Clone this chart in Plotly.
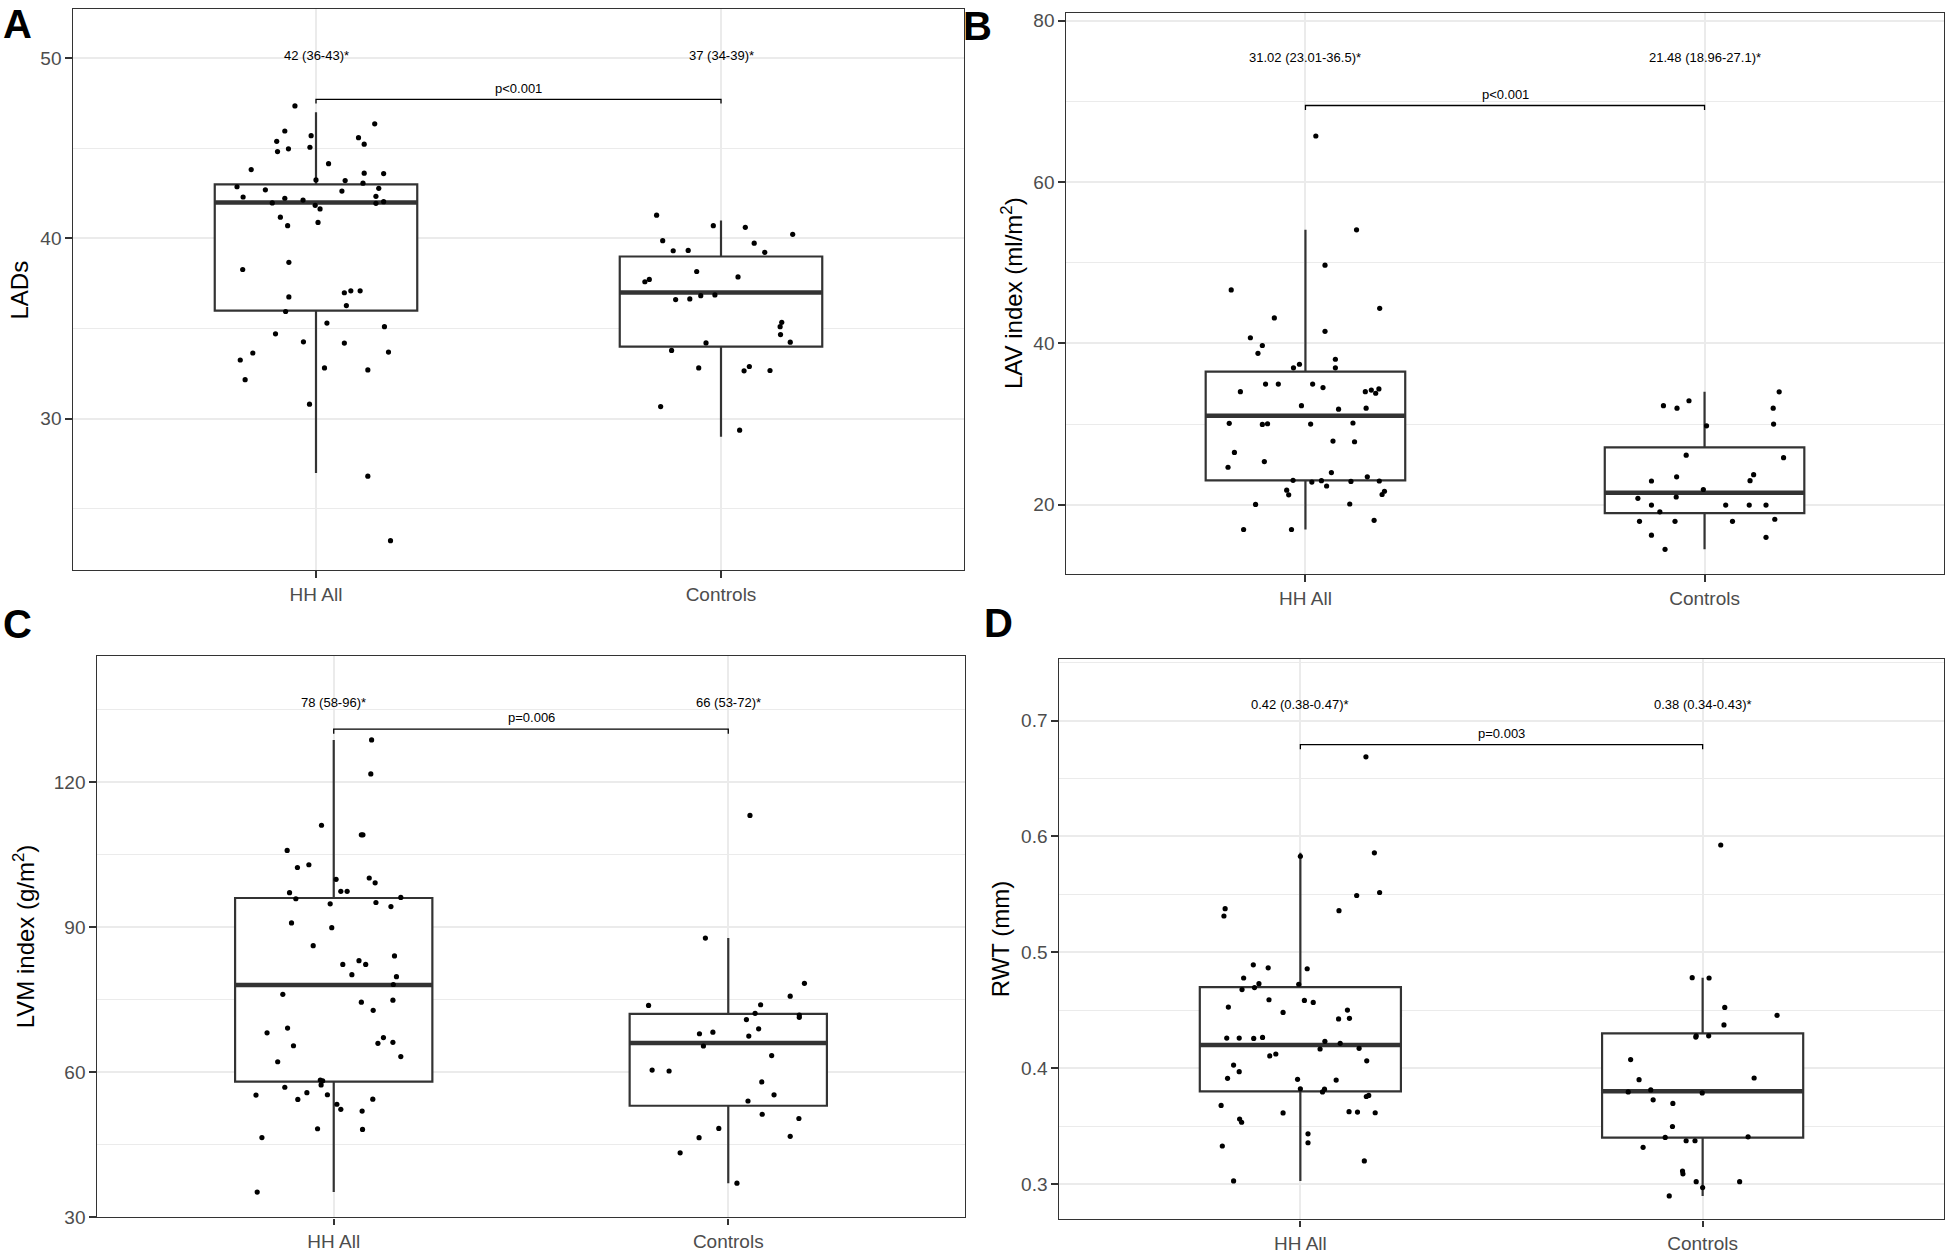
import plotly.graph_objects as go

categories = ["HH All", "Controls"]

# ---------------- Panel A : LADs ----------------
a_hh_jit = [-0.052, -0.077, -0.012, -0.097, -0.068, -0.095, -0.015, 0.145, 0.105, 0.119, 0.031, -0.160, 0.119, 0.167,
            0.000, 0.072, 0.116, -0.195, -0.125, 0.064, 0.155, -0.180, -0.077, -0.032, -0.108, 0.148, 0.167, 0.148,
            -0.002, 0.010, -0.088, -0.070, 0.005, -0.067, -0.181, 0.070, 0.086, 0.109, -0.067, 0.075, -0.075, 0.027,
            0.169, -0.100, -0.031, 0.070, -0.156, 0.179, -0.187, -0.175, 0.021, 0.128, -0.016, 0.128, 0.184]
a_hh_val = [47.35, 45.96, 45.70, 45.39, 44.97, 44.82, 45.06, 46.36, 45.59, 45.23, 44.15, 43.82, 43.62, 43.60,
            43.25, 43.21, 43.07, 42.87, 42.70, 42.63, 42.78, 42.30, 42.23, 42.13, 41.97, 42.34, 42.04, 41.95,
            41.84, 41.64, 41.18, 40.71, 40.89, 38.68, 38.28, 36.99, 37.10, 37.10, 36.76, 36.28, 35.95, 35.31,
            35.11, 34.71, 34.27, 34.20, 33.65, 33.70, 33.26, 32.17, 32.82, 32.71, 30.81, 26.82, 23.24]
a_ct_jit = [-0.159, -0.019, 0.060, 0.177, -0.144, 0.082, -0.118, -0.081, 0.108, -0.060, 0.042, -0.188, -0.177, -0.112,
            -0.077, -0.050, -0.015, 0.150, 0.146, 0.147, 0.171, -0.037, -0.122, -0.055, 0.057, 0.070, 0.121, -0.149,
            0.046]
a_ct_val = [41.29, 40.71, 40.62, 40.23, 39.88, 39.74, 39.32, 39.34, 39.23, 38.17, 37.87, 37.60, 37.73, 36.61,
            36.65, 36.83, 36.87, 35.35, 35.11, 34.67, 34.25, 34.21, 33.79, 32.82, 32.66, 32.90, 32.68, 30.68,
            29.37]
a_q1 = [36, 34]
a_med = [42, 37]
a_q3 = [43, 39]
a_lo = [27, 29]
a_hi = [47, 41]
a_labels = ["42 (36-43)*", "37 (34-39)*"]
a_p = "p<0.001"

# ---------------- Panel B : LAV index ----------------
b_hh_jit = [0.026, 0.128, 0.049, -0.186, 0.186, -0.078, 0.049, -0.138, -0.108, -0.119, 0.075, -0.015, -0.030, 0.075,
            -0.100, -0.068, 0.018, 0.044, -0.163, 0.150, 0.165, 0.176, 0.184, -0.010, 0.083, 0.152, -0.191, -0.108,
            -0.095, 0.013, 0.119, 0.069, 0.123, -0.178, -0.103, -0.194, 0.065, 0.155, -0.031, 0.016, 0.040, 0.053,
            0.114, 0.185, -0.047, -0.042, 0.192, 0.198, -0.125, 0.111, 0.172, -0.155, -0.035]
b_hh_val = [65.70, 54.08, 49.69, 46.62, 44.34, 43.16, 41.49, 40.70, 39.74, 38.77, 38.03, 37.41, 36.97, 36.97,
            34.96, 34.96, 34.96, 34.52, 34.01, 34.01, 34.21, 33.82, 34.35, 32.28, 31.84, 31.97, 30.09, 29.96,
            30.04, 30.00, 30.13, 27.89, 27.81, 26.49, 25.35, 24.65, 23.99, 23.46, 23.03, 22.81, 22.98, 22.32,
            22.89, 22.94, 21.80, 21.23, 21.27, 21.67, 20.04, 20.09, 18.07, 16.93, 16.93]
b_ct_jit = [0.187, -0.039, -0.103, -0.069, 0.172, 0.005, 0.173, -0.046, 0.198, 0.123, -0.070, 0.114, -0.133, -0.003,
            -0.167, -0.071, -0.133, 0.053, 0.112, 0.154, -0.112, -0.163, -0.074, 0.070, 0.176, -0.133, 0.154, -0.099]
b_ct_val = [33.99, 32.89, 32.28, 31.97, 31.97, 29.78, 30.00, 26.14, 25.83, 23.73, 23.46, 22.98, 22.94, 21.89,
            20.79, 20.96, 19.96, 19.96, 19.96, 19.96, 19.12, 17.94, 17.94, 17.94, 18.20, 16.23, 15.96, 14.47]
b_q1 = [23.01, 18.96]
b_med = [31.02, 21.48]
b_q3 = [36.5, 27.1]
b_lo = [16.93, 14.47]
b_hi = [54.08, 33.99]
b_labels = ["31.02 (23.01-36.5)*", "21.48 (18.96-27.1)*"]
b_p = "p<0.001"

# ---------------- Panel C : LVM index ----------------
c_hh_jit = [0.096, 0.094, -0.031, 0.070, 0.074, -0.118, -0.092, -0.063, 0.006, 0.090, 0.105, 0.018, 0.034, -0.112,
            -0.096, 0.170, -0.009, 0.107, 0.145, -0.107, -0.005, -0.052, 0.154, 0.023, 0.064, 0.081, 0.046, 0.159,
            0.151, -0.129, 0.070, 0.150, 0.100, -0.117, -0.169, -0.102, 0.126, 0.112, 0.150, 0.170, -0.142, -0.034,
            -0.032, -0.028, -0.124, -0.197, -0.068, -0.016, -0.091, 0.099, 0.008, 0.018, 0.072, -0.041, 0.073,
            -0.182, -0.194]
c_hh_val = [128.73, 121.69, 111.06, 109.08, 109.08, 105.85, 102.32, 102.89, 99.86, 100.14, 99.15, 97.39, 97.39, 97.11,
            95.85, 96.13, 94.79, 95.07, 94.23, 90.85, 89.86, 86.13, 84.01, 82.25, 83.03, 82.25, 80.14, 79.72,
            78.10, 76.06, 74.44, 74.86, 72.75, 69.08, 68.10, 65.42, 67.11, 65.92, 66.13, 63.17, 62.11, 58.31,
            57.32, 58.17, 56.83, 55.21, 55.70, 55.28, 54.30, 54.37, 53.31, 52.25, 51.90, 48.24, 48.10,
            46.41, 35.14]
c_ct_jit = [0.055, -0.058, 0.193, 0.157, -0.202, 0.082, 0.068, 0.180, 0.180, 0.046, 0.077, -0.039, -0.073, 0.052,
            -0.063, 0.110, -0.193, -0.150, 0.085, 0.116, 0.050, 0.086, 0.179, -0.024, -0.074, 0.157, -0.122, 0.022]
c_ct_val = [113.09, 87.70, 78.34, 75.68, 73.77, 73.91, 72.13, 71.79, 71.31, 70.84, 68.92, 68.24, 67.90, 67.42,
            65.37, 63.39, 60.39, 60.19, 57.93, 55.27, 53.98, 51.24, 50.36, 48.31, 46.40, 46.67, 43.26, 36.98]
c_q1 = [58, 53]
c_med = [78, 66]
c_q3 = [96, 72]
c_lo = [35.14, 36.98]
c_hi = [128.73, 87.70]
c_labels = ["78 (58-96)*", "66 (53-72)*"]
c_p = "p=0.006"

# ---------------- Panel D : RWT ----------------
d_hh_jit = [0.163, 0.184, 0.000, 0.140, 0.197, -0.187, -0.190, 0.096, -0.117, -0.080, 0.017, -0.141, -0.103, -0.114,
            -0.145, -0.004, -0.078, 0.010, 0.032, -0.179, -0.043, 0.117, 0.095, 0.122, -0.183, -0.152, -0.116,
            -0.094, 0.061, 0.099, 0.049, 0.146, -0.076, -0.061, 0.165, -0.166, -0.152, -0.181, -0.007, 0.089,
            0.000, 0.060, 0.055, 0.164, 0.170, -0.197, -0.043, 0.121, 0.142, 0.186, -0.151, -0.146, 0.019, 0.019,
            -0.194, 0.159, -0.166]
d_hh_val = [0.6687, 0.5858, 0.5829, 0.5490, 0.5516, 0.5376, 0.5313, 0.5359, 0.4892, 0.4866, 0.4858, 0.4778, 0.4729,
            0.4695, 0.4678, 0.4724, 0.4590, 0.4584, 0.4567, 0.4527, 0.4481, 0.4501, 0.4425, 0.4430, 0.4259, 0.4259,
            0.4256, 0.4265, 0.4231, 0.4214, 0.4165, 0.4171, 0.4105, 0.4122, 0.4063, 0.4026, 0.3969, 0.3912, 0.3903,
            0.3897, 0.3821, 0.3818, 0.3795, 0.3755, 0.3764, 0.3678, 0.3613, 0.3624, 0.3621, 0.3615, 0.3561, 0.3533,
            0.3433, 0.3356, 0.3328, 0.3199, 0.3026]
d_ct_jit = [0.045, -0.026, 0.016, 0.055, 0.185, 0.053, -0.017, -0.016, 0.015, -0.179, -0.158, 0.128, -0.185, -0.129,
            -0.001, -0.123, -0.074, -0.075, -0.093, -0.041, -0.019, 0.113, -0.148, -0.050, -0.049, -0.016, 0.092,
            0.000, -0.083]
d_ct_val = [0.5926, 0.4781, 0.4778, 0.4524, 0.4456, 0.4373, 0.4268, 0.4279, 0.4279, 0.4074, 0.3900, 0.3915, 0.3795,
            0.3812, 0.3786, 0.3726, 0.3695, 0.3496, 0.3402, 0.3373, 0.3373, 0.3407, 0.3316, 0.3111, 0.3088, 0.3020,
            0.3020, 0.2969, 0.2897]
d_q1 = [0.38, 0.34]
d_med = [0.42, 0.38]
d_q3 = [0.47, 0.43]
d_lo = [0.3026, 0.2897]
d_hi = [0.5858, 0.4781]
d_labels = ["0.42 (0.38-0.47)*", "0.38 (0.34-0.43)*"]
d_p = "p=0.003"

# ---------------- layout of the four panels (pixel boxes on 1950x1260) ----------------
W, H = 1950, 1260
FONT = "Liberation Sans, Arial, sans-serif"
BOX_W = 0.5
DARK = "#333333"
GRID = "#EBEBEB"

panels = [
    dict(name="A", title="LADs", px=(73, 964), py=(6, 573), yr=(21.61, 52.73), dtick=10, fmt="",
         hh=(a_hh_jit, a_hh_val), ct=(a_ct_jit, a_ct_val), q1=a_q1, med=a_med, q3=a_q3, lo=a_lo, hi=a_hi,
         labels=a_labels, p=a_p, lab_y=50.13, p_y=48.3, br_y=47.71, br_end=47.48,
         tag_xy=(17, 21), title_xy=(19.5, 290)),
    dict(name="B", title="LAV index (ml/m<sup>2</sup>)", px=(1066, 1944), py=(10, 577), yr=(11.41, 80.96), dtick=20, fmt="",
         hh=(b_hh_jit, b_hh_val), ct=(b_ct_jit, b_ct_val), q1=b_q1, med=b_med, q3=b_q3, lo=b_lo, hi=b_hi,
         labels=b_labels, p=b_p, lab_y=75.38, p_y=70.9, br_y=69.48, br_end=68.91,
         tag_xy=(978, 23), title_xy=(1012, 293)),
    dict(name="C", title="LVM index (g/m<sup>2</sup>)", px=(97, 965), py=(660, 1227), yr=(29.9, 146.06), dtick=30, fmt="",
         hh=(c_hh_jit, c_hh_val), ct=(c_ct_jit, c_ct_val), q1=c_q1, med=c_med, q3=c_q3, lo=c_lo, hi=c_hi,
         labels=c_labels, p=c_p, lab_y=136.5, p_y=133.4, br_y=130.97, br_end=130.0,
         tag_xy=(17.5, 627), title_xy=(24, 943)),
    dict(name="D", title="RWT (mm)", px=(1059, 1944), py=(663, 1229), yr=(0.2695, 0.753), dtick=0.1, fmt=".1f",
         hh=(d_hh_jit, d_hh_val), ct=(d_ct_jit, d_ct_val), q1=d_q1, med=d_med, q3=d_q3, lo=d_lo, hi=d_hi,
         labels=d_labels, p=d_p, lab_y=0.7135, p_y=0.689, br_y=0.6792, br_end=0.6752,
         tag_xy=(998, 626), title_xy=(1000, 946)),
]

fig = go.Figure()
annotations = []

for i, pn in enumerate(panels, start=1):
    xa = "x" if i == 1 else f"x{i}"
    ya = "y" if i == 1 else f"y{i}"
    pos = [0, 1]

    # boxes
    fig.add_trace(go.Box(
        x=pos, q1=pn["q1"], median=pn["med"], q3=pn["q3"],
        lowerfence=pn["lo"], upperfence=pn["hi"],
        width=BOX_W, fillcolor="white", line=dict(color=DARK, width=2.2),
        whiskerwidth=0, boxpoints=False, showlegend=False, hoverinfo="skip",
        xaxis=xa, yaxis=ya))
    # thicker median bars
    mx, my = [], []
    for c, m in zip(pos, pn["med"]):
        mx += [c - BOX_W / 2, c + BOX_W / 2, None]
        my += [m, m, None]
    fig.add_trace(go.Scatter(x=mx, y=my, mode="lines", line=dict(color=DARK, width=4.5),
                             showlegend=False, hoverinfo="skip", xaxis=xa, yaxis=ya))
    # jittered points
    for c, (jit, vals) in zip(pos, [pn["hh"], pn["ct"]]):
        fig.add_trace(go.Scatter(x=[c + j for j in jit], y=vals, mode="markers",
                                 marker=dict(color="black", size=5.2, line=dict(width=0)),
                                 showlegend=False, hoverinfo="skip", xaxis=xa, yaxis=ya))
    # significance bracket
    fig.add_trace(go.Scatter(x=[0, 0, 1, 1], y=[pn["br_end"], pn["br_y"], pn["br_y"], pn["br_end"]],
                             mode="lines", line=dict(color="black", width=1.3),
                             showlegend=False, hoverinfo="skip", xaxis=xa, yaxis=ya))
    for c, t in zip(pos, pn["labels"]):
        annotations.append(dict(x=c, y=pn["lab_y"], xref=xa, yref=ya, text=t, showarrow=False,
                                font=dict(size=13, color="black", family=FONT),
                                xanchor="center", yanchor="middle"))
    annotations.append(dict(x=0.5, y=pn["p_y"], xref=xa, yref=ya, text=pn["p"], showarrow=False,
                            font=dict(size=13, color="black", family=FONT),
                            xanchor="center", yanchor="middle"))
    # panel tag and y title
    annotations.append(dict(x=pn["tag_xy"][0] / W, y=1 - pn["tag_xy"][1] / H, xref="paper", yref="paper",
                            text=f"<b>{pn['name']}</b>", showarrow=False,
                            font=dict(size=40, color="black", family=FONT),
                            xanchor="center", yanchor="middle"))
    annotations.append(dict(x=pn["title_xy"][0] / W, y=1 - pn["title_xy"][1] / H, xref="paper", yref="paper",
                            text=pn["title"], showarrow=False, textangle=-90,
                            font=dict(size=24, color="black", family=FONT),
                            xanchor="center", yanchor="middle"))

    axis_common = dict(showline=True, mirror=True, linecolor=DARK, linewidth=1.4,
                       ticks="outside", ticklen=6.5, tickwidth=1.6, tickcolor=DARK,
                       tickfont=dict(size=19, color="#4D4D4D", family=FONT),
                       showgrid=True, gridcolor=GRID, gridwidth=1.6, zeroline=False)
    xkey = "xaxis" if i == 1 else f"xaxis{i}"
    ykey = "yaxis" if i == 1 else f"yaxis{i}"
    fig.update_layout(**{
        xkey: dict(domain=[pn["px"][0] / W, pn["px"][1] / W], range=[-0.6, 1.6],
                   tickmode="array", tickvals=pos, ticktext=categories, anchor=ya, **axis_common),
        ykey: dict(domain=[1 - pn["py"][1] / H, 1 - pn["py"][0] / H], range=list(pn["yr"]),
                   tickmode="linear", tick0=0, dtick=pn["dtick"], tickformat=pn["fmt"], anchor=xa,
                   minor=dict(dtick=pn["dtick"] / 2, tick0=0, showgrid=True, gridcolor=GRID,
                              gridwidth=1.0, ticks=""),
                   **axis_common),
    })

fig.update_layout(width=W, height=H, margin=dict(l=0, r=0, t=0, b=0),
                  paper_bgcolor="white", plot_bgcolor="white",
                  font=dict(family=FONT), annotations=annotations, showlegend=False)

fig.write_html("out.html", config={"displayModeBar": False},
               post_script="document.body.style.margin='0';")
